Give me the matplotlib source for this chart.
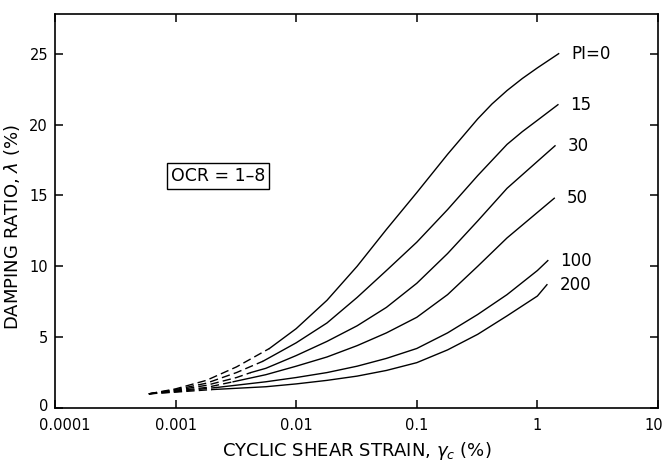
import matplotlib
matplotlib.use("Agg")
import matplotlib.pyplot as plt
from matplotlib.transforms import ScaledTranslation

# ---- data ----
pi_labels = ["PI=0", "15", "30", "50", "100", "200"]

strain_pi0 = [0.0006, 0.001, 0.0018, 0.0032, 0.006, 0.01, 0.018, 0.032, 0.056, 0.1, 0.18, 0.32, 0.42, 0.56, 0.75, 1.0, 1.5]
damp_pi0 = [1.0, 1.35, 1.95, 2.9, 4.2, 5.6, 7.6, 10.0, 12.6, 15.2, 17.9, 20.4, 21.45, 22.4, 23.25, 24.0, 25.0]

strain_pi15 = [0.0006, 0.001, 0.0018, 0.0032, 0.0053, 0.01, 0.018, 0.032, 0.056, 0.1, 0.18, 0.32, 0.56, 0.75, 1.0, 1.48]
damp_pi15 = [1.0, 1.3, 1.75, 2.5, 3.3, 4.6, 6.0, 7.8, 9.7, 11.7, 14.0, 16.4, 18.6, 19.5, 20.3, 21.4]

strain_pi30 = [0.0006, 0.001, 0.0018, 0.0032, 0.0042, 0.0056, 0.01, 0.018, 0.032, 0.056, 0.1, 0.18, 0.32, 0.56, 1.0, 1.4]
damp_pi30 = [1.0, 1.25, 1.6, 2.15, 2.5, 2.8, 3.7, 4.7, 5.8, 7.1, 8.8, 10.9, 13.2, 15.5, 17.4, 18.5]

strain_pi50 = [0.0006, 0.001, 0.0018, 0.003, 0.0056, 0.01, 0.018, 0.032, 0.056, 0.1, 0.18, 0.32, 0.56, 1.0, 1.38]
damp_pi50 = [1.0, 1.2, 1.45, 1.85, 2.35, 2.95, 3.6, 4.4, 5.3, 6.4, 8.0, 10.0, 12.0, 13.8, 14.8]

strain_pi100 = [0.0006, 0.001, 0.0022, 0.0056, 0.01, 0.018, 0.032, 0.056, 0.1, 0.18, 0.32, 0.56, 1.0, 1.22]
damp_pi100 = [1.0, 1.15, 1.45, 1.85, 2.15, 2.5, 2.95, 3.5, 4.2, 5.3, 6.6, 8.0, 9.7, 10.4]

strain_pi200 = [0.0006, 0.001, 0.002, 0.0056, 0.01, 0.018, 0.032, 0.056, 0.1, 0.18, 0.32, 0.56, 1.0, 1.2]
damp_pi200 = [1.0, 1.12, 1.3, 1.5, 1.7, 1.95, 2.25, 2.65, 3.2, 4.1, 5.2, 6.5, 7.9, 8.7]

# index of the point where the solid (measured) part of each curve begins
solid_start = [4, 4, 4, 3, 2, 2]

x_ticks = [0.0001, 0.001, 0.01, 0.1, 1, 10]
x_tick_labels = ["0.0001", "0.001", "0.01", "0.1", "1", "10"]
y_ticks = [0, 5, 10, 15, 20, 25]

curves = [
    (strain_pi0, damp_pi0),
    (strain_pi15, damp_pi15),
    (strain_pi30, damp_pi30),
    (strain_pi50, damp_pi50),
    (strain_pi100, damp_pi100),
    (strain_pi200, damp_pi200),
]

plt.rcParams['font.family'] = ['DejaVu Sans']

fig = plt.figure(figsize=(6.65, 4.61), dpi=100)
ax = fig.add_axes([55 / 665, 1 - 408 / 461, 603 / 665, 394 / 461])

for (xs, ys), k in zip(curves, solid_start):
    ax.plot(xs[:k + 1], ys[:k + 1], color='black', lw=1.0,
            linestyle=(0, (6, 3)), solid_joinstyle='round')
    ax.plot(xs[k:], ys[k:], color='black', lw=1.0, solid_joinstyle='round')

for (xs, ys), lab in zip(curves, pi_labels):
    ax.annotate(lab, xy=(xs[-1], ys[-1]), xytext=(9, 0),
                textcoords='offset points', ha='left', va='center',
                fontsize=12, color='black')

ax.set_xscale('log')
ax.set_xlim(0.0001, 10)
ax.set_ylim(0, 27.8)
ax.set_xticks(x_ticks)
ax.set_xticklabels(x_tick_labels)
ax.minorticks_off()
ax.set_yticks(y_ticks)

ax.tick_params(axis='both', which='major', direction='in', length=6, width=1.1,
               labelsize=10.5, top=True, right=True, pad=5)
ax.tick_params(axis='x', pad=7)
for s in ax.spines.values():
    s.set_linewidth(1.2)

# nudge a few tick labels as in the reference so they do not collide
xlabels = ax.get_xticklabels()
xlabels[0].set_transform(xlabels[0].get_transform() + ScaledTranslation(10 / 100, 0, fig.dpi_scale_trans))
xlabels[-1].set_transform(xlabels[-1].get_transform() + ScaledTranslation(-4 / 100, 0, fig.dpi_scale_trans))
ylabels = ax.get_yticklabels()
ylabels[0].set_transform(ylabels[0].get_transform() + ScaledTranslation(0, 3 / 100, fig.dpi_scale_trans))

ax.set_xlabel(r'CYCLIC SHEAR STRAIN, $\gamma_c$ (%)', fontsize=13, labelpad=5)
ax.set_ylabel(r'DAMPING RATIO, $\lambda$ (%)', fontsize=13)
ax.yaxis.set_label_coords(-0.055, 0.46)

ax.text(0.27, 0.589, 'OCR = 1–8', transform=ax.transAxes, ha='center', va='center',
        fontsize=12.5,
        bbox=dict(boxstyle='square,pad=0.22', facecolor='white', edgecolor='black', lw=1.0))

fig.savefig('out.png', dpi=100)
